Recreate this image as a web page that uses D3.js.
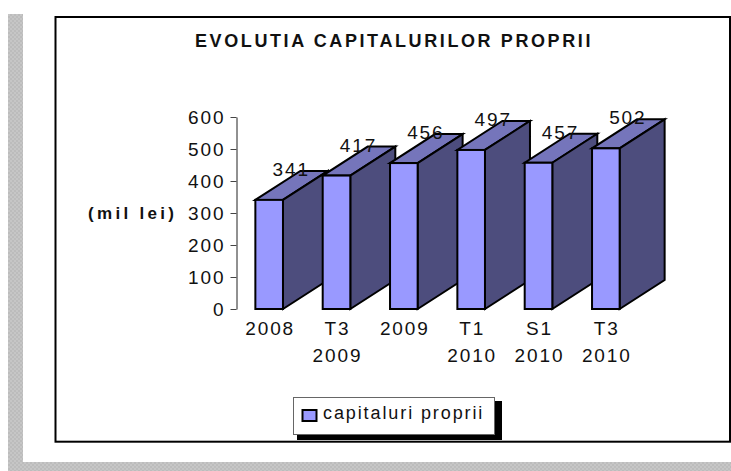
<!DOCTYPE html>
<html lang="en">
<head>
    <meta charset="UTF-8">
    <title>Evolutia capitalurilor proprii</title>
    <script src="https://cdn.jsdelivr.net/npm/d3@7/dist/d3.min.js"></script>
    <style>
        html, body { margin: 0; padding: 0; background: #fff; }
        svg { display: block; }
        text { font-family: "Liberation Sans", Arial, sans-serif; fill: #111; }
    </style>
</head>
<body>
<script>
    const categories = ['2008', 'T3 2009', '2009', 'T1 2010', 'S1 2010', 'T3 2010'];
    const values = [341, 417, 456, 497, 457, 502];
    const yTicks = [0, 100, 200, 300, 400, 500, 600];
    const seriesName = 'capitaluri proprii';
    const titleText = 'EVOLUTIA CAPITALURILOR PROPRII';
    const yTitle = '(mil lei)';

    const width = 731;
    const height = 471;
    const depthX = 45;
    const depthY = 29;

    const svg = d3.select('body').append('svg')
        .attr('width', width)
        .attr('height', height);

    // gray dotted frame behind the chart
    const pattern = svg.append('defs').append('pattern')
        .attr('id', 'dots')
        .attr('width', 4).attr('height', 4)
        .attr('patternUnits', 'userSpaceOnUse');
    pattern.append('rect').attr('width', 4).attr('height', 4).attr('fill', '#c6c6c6');
    pattern.append('rect').attr('width', 2).attr('height', 2).attr('fill', '#bcbcbc');
    pattern.append('rect').attr('x', 2).attr('y', 2).attr('width', 2).attr('height', 2).attr('fill', '#bcbcbc');

    svg.append('rect').attr('x', 8).attr('y', 14).attr('width', 15).attr('height', 457).attr('fill', 'url(#dots)');
    svg.append('rect').attr('x', 8).attr('y', 462).attr('width', 723).attr('height', 9).attr('fill', 'url(#dots)');

    svg.append('rect')
        .attr('x', 55.5).attr('y', 17)
        .attr('width', 674.5).attr('height', 424.7)
        .attr('fill', '#fff')
        .attr('stroke', '#000')
        .attr('stroke-width', 2);

    svg.append('text')
        .attr('x', 394).attr('y', 47)
        .attr('text-anchor', 'middle')
        .attr('font-size', 18)
        .attr('font-weight', 'bold')
        .attr('letter-spacing', 2.6)
        .text(titleText);

    // scales
    const x = d3.scaleBand()
        .domain(categories)
        .range([235.5, 639.5])
        .paddingInner(0.59)
        .paddingOuter(0.295);
    const y = d3.scaleLinear().domain([0, 600]).range([309, 117]);

    // y axis
    const yAxis = svg.append('g')
        .attr('transform', 'translate(236.5,0)')
        .call(d3.axisLeft(y).tickValues(yTicks).tickSize(6).tickPadding(5).tickSizeOuter(0));
    yAxis.select('.domain').attr('stroke', '#222');
    yAxis.selectAll('line').attr('stroke', '#444');
    yAxis.selectAll('text')
        .attr('font-size', 19)
        .attr('letter-spacing', 1.9)
        .attr('font-family', '"Liberation Sans", Arial, sans-serif')
        .attr('fill', '#111');

    svg.append('text')
        .attr('x', 88).attr('y', 219)
        .attr('font-size', 17)
        .attr('font-weight', 'bold')
        .attr('letter-spacing', 3.3)
        .text(yTitle);

    // bars, left to right so each one covers the side of the previous
    const bars = svg.append('g').selectAll('g')
        .data(values)
        .enter()
        .append('g')
        .attr('stroke', '#000')
        .attr('stroke-width', 2)
        .attr('stroke-linejoin', 'miter');

    const left = (d, i) => x(categories[i]);
    const right = (d, i) => x(categories[i]) + x.bandwidth();

    bars.append('polygon')
        .attr('fill', '#7575bb')
        .attr('points', (d, i) => [
            [left(d, i), y(d)],
            [right(d, i), y(d)],
            [right(d, i) + depthX, y(d) - depthY],
            [left(d, i) + depthX, y(d) - depthY]
        ].join(' '));
    bars.append('polygon')
        .attr('fill', '#4d4d7d')
        .attr('points', (d, i) => [
            [right(d, i), y(d)],
            [right(d, i) + depthX, y(d) - depthY],
            [right(d, i) + depthX, y(0) - depthY],
            [right(d, i), y(0)]
        ].join(' '));
    bars.append('rect')
        .attr('fill', '#9999ff')
        .attr('x', left)
        .attr('y', d => y(d))
        .attr('width', x.bandwidth())
        .attr('height', d => y(0) - y(d));

    // value labels sit on top of the bars
    svg.append('g').selectAll('text')
        .data(values)
        .enter()
        .append('text')
        .attr('x', (d, i) => x(categories[i]) + x.bandwidth() / 2 + 22)
        .attr('y', d => y(d) - 24)
        .attr('text-anchor', 'middle')
        .attr('font-size', 19)
        .attr('letter-spacing', 1.9)
        .text(d => d);

    // category labels, broken on the space
    const catLabels = svg.append('g').selectAll('text')
        .data(categories)
        .enter()
        .append('text')
        .attr('text-anchor', 'middle')
        .attr('font-size', 19)
        .attr('letter-spacing', 1.9)
        .attr('y', 335);
    catLabels.selectAll('tspan')
        .data(d => d.split(' ').map(part => ({part, cat: d})))
        .enter()
        .append('tspan')
        .attr('x', d => x(d.cat) + x.bandwidth() / 2 + 1)
        .attr('dy', (d, i) => i ? 27 : 0)
        .text(d => d.part);

    // legend
    svg.append('rect')
        .attr('x', 297).attr('y', 401)
        .attr('width', 205).attr('height', 39)
        .attr('fill', '#000');
    svg.append('rect')
        .attr('x', 293.5).attr('y', 397.5)
        .attr('width', 201).attr('height', 37)
        .attr('fill', '#fff')
        .attr('stroke', '#666');
    svg.append('rect')
        .attr('x', 302.5).attr('y', 410)
        .attr('width', 14).attr('height', 11)
        .attr('fill', '#9999ff')
        .attr('stroke', '#000')
        .attr('stroke-width', 2);
    svg.append('text')
        .attr('x', 323).attr('y', 419)
        .attr('font-size', 18)
        .attr('letter-spacing', 1.9)
        .text(seriesName);
</script>
</body>
</html>
